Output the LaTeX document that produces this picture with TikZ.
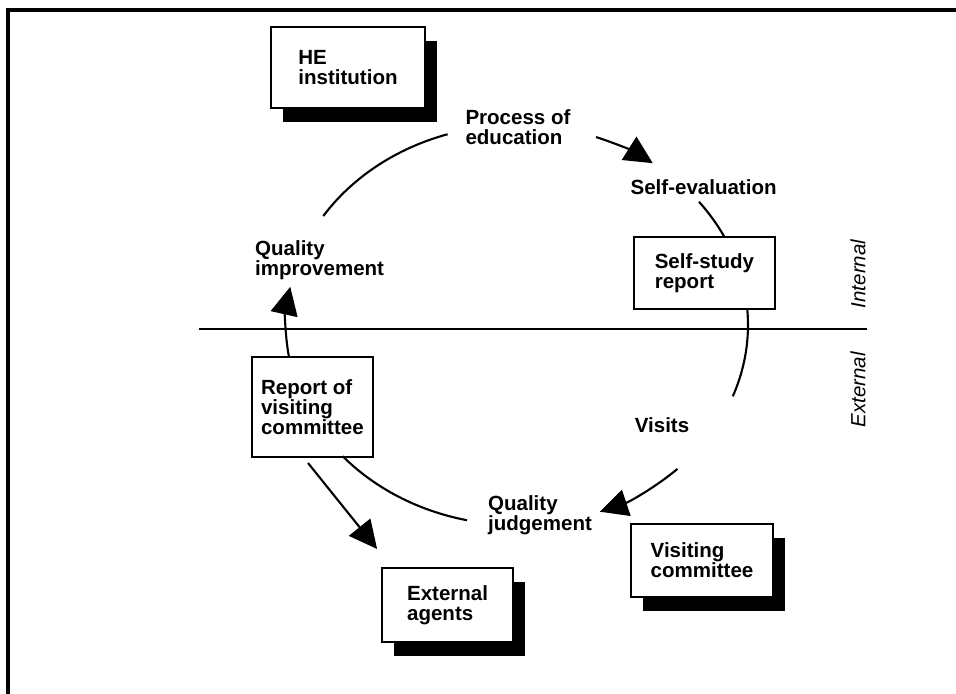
\documentclass[tikz,border=0pt]{standalone}
\usepackage{fontspec}
\setmainfont{Liberation Sans}
\usepackage{tikz}
\usetikzlibrary{arrows.meta, shadows, calc, positioning}

\begin{document}
\begin{tikzpicture}[
        every node/.style={font=\bfseries\fontsize{14.6}{14.4}\selectfont, align=left, inner sep=0pt},
        box/.style={draw, line width=1.4pt, fill=white},
        deep/.style={drop shadow={shadow xshift=0.3cm, shadow yshift=-0.36cm, opacity=1, fill=black}},
        side/.style={font=\itshape\fontsize{14.6}{14.4}\selectfont, rotate=90},
        ring/.style={line width=1.5pt},
        arr/.style={-{Triangle[length=0.7cm, width=0.68cm]}}
    ]

    \useasboundingbox (0,0) rectangle (23.9,17.35);

    % Frame
    \draw[line width=2.2pt] (0.2,0) -- (0.2,17.1) -- (23.9,17.1);

    % Internal / external
    \draw[line width=1.1pt] (4.975,9.125) -- (21.675,9.125);
    \node[side] (internal) at (21.45,10.5) {Internal};
    \node[side] (external) at (21.45,7.6) {External};

    % Boxes
    \node[box, deep, minimum width=3.85cm, minimum height=2.025cm] (heinst) at (8.7,15.66) {HE\\institution};
    \node[box, minimum width=3.525cm, minimum height=1.8cm] (selfstudy) at (17.61,10.525) {Self-study\\report};
    \node[box, minimum width=3.025cm, minimum height=2.5cm] (report) at (7.81,7.175) {Report of\\visiting\\committee};
    \node[box, deep, minimum width=3.275cm, minimum height=1.85cm] (extagents) at (11.19,2.225) {External\\agents};
    \node[box, deep, minimum width=3.55cm, minimum height=1.825cm] (viscomm) at (17.55,3.34) {Visiting\\committee};

    % Labels
    \node (process) at (12.95,14.175) {Process of\\education};
    \node (selfeval) at (17.59,12.675) {Self-evaluation};
    \node (qimprove) at (7.99,10.85) {Quality\\improvement};
    \node (visits) at (16.55,6.725) {Visits};
    \node (qjudge) at (13.5,4.475) {Quality\\judgement};

    % Cycle
    \coordinate (hub) at (12.925,9.225);
    \foreach \a/\b/\s in {147/107.5/-, 70/54/arr, 38/26/-, 4.6/-20.9/-, -46/-69/arr, -102.5/-139/-, 189/169/arr}
        \draw[ring, \s] ($(hub)+(\a:5.775cm and 5cm)$) arc[start angle=\a, end angle=\b, x radius=5.775cm, y radius=5cm];

    \draw[ring, arr] ([shift={(-0.11cm,-0.125cm)}]report.south) -- ([shift={(-0.1cm,0.45cm)}]extagents.north west);

\end{tikzpicture}
\end{document}
